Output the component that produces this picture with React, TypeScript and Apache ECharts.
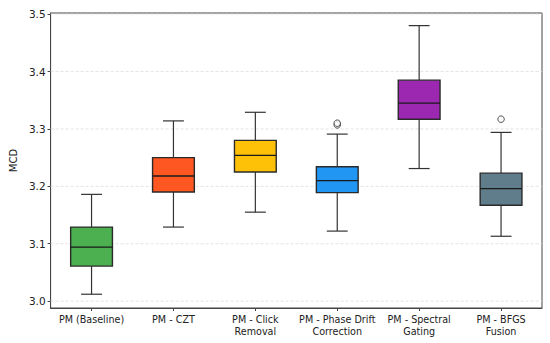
import React, { useEffect, useRef } from "react";
import * as echarts from "echarts";

const categories = [
  "PM (Baseline)",
  "PM - CZT",
  "PM - Click\nRemoval",
  "PM - Phase Drift\nCorrection",
  "PM - Spectral\nGating",
  "PM - BFGS\nFusion",
];
// [whiskerLow, Q1, median, Q3, whiskerHigh]
const boxStats = [
  [3.012, 3.061, 3.094, 3.129, 3.186],
  [3.129, 3.19, 3.218, 3.25, 3.314],
  [3.155, 3.225, 3.254, 3.28, 3.329],
  [3.122, 3.189, 3.21, 3.234, 3.291],
  [3.231, 3.317, 3.345, 3.385, 3.48],
  [3.113, 3.167, 3.196, 3.223, 3.294],
];
const outliers: [number, number][] = [
  [3, 3.307],
  [3, 3.31],
  [5, 3.317],
];
const boxColors = ["#4CAF50", "#FF5722", "#FFC107", "#2196F3", "#9C27B0", "#607D8B"];
const yTicks = [3.0, 3.1, 3.2, 3.3, 3.4, 3.5];

export default function App() {
  const ref = useRef<HTMLDivElement>(null);
  useEffect(() => {
    if (!ref.current) return;
    const chart = echarts.init(ref.current, undefined, { renderer: "svg" });
    const font = "DejaVu Sans";
    chart.setOption({
      animation: false,
      backgroundColor: "#fff",
      grid: {
        left: 43,
        right: 8,
        top: 13,
        bottom: 35,
        show: true,
        borderColor: "#444",
        borderWidth: 1,
        backgroundColor: "transparent",
      },
      xAxis: {
        type: "category",
        data: categories,
        axisLine: { show: true, lineStyle: { color: "#444", width: 1 } },
        axisTick: { show: true, alignWithLabel: true, length: 3, lineStyle: { color: "#444" } },
        axisLabel: { color: "#222", fontFamily: font, fontSize: 9.6, lineHeight: 12, margin: 5, interval: 0 },
        splitLine: { show: false },
      },
      yAxis: {
        type: "value",
        min: 2.988,
        max: 3.502,
        name: "MCD",
        nameLocation: "middle",
        nameGap: 29,
        nameTextStyle: { color: "#222", fontFamily: font, fontSize: 10 },
        axisLine: { show: true, lineStyle: { color: "#444", width: 1 } },
        axisTick: { show: true, length: 3, customValues: yTicks, lineStyle: { color: "#444" } },
        axisLabel: {
          color: "#222",
          fontFamily: font,
          fontSize: 10.5,
          margin: 5,
          customValues: yTicks,
          formatter: (v: number) => v.toFixed(1),
        },
        splitLine: { show: false },
      },
      series: [
        {
          type: "custom",
          data: yTicks.map((v) => [v]),
          renderItem: (params: any, api: any) => {
            const v = api.value(0);
            const cs = params.coordSys;
            const y = api.coord([0, v])[1];
            return {
              type: "line",
              shape: { x1: cs.x, y1: y, x2: cs.x + cs.width, y2: y },
              style: { stroke: "#ddd", lineWidth: 0.8, lineDash: [3, 2] },
              z2: 0,
            };
          },
          z: 1,
        },
        {
          type: "custom",
          data: boxStats.map((s, i) => [i, ...s]),
          renderItem: (params: any, api: any) => {
            const i = api.value(0);
            const lo = api.coord([i, api.value(1)]);
            const q1 = api.coord([i, api.value(2)]);
            const med = api.coord([i, api.value(3)]);
            const q3 = api.coord([i, api.value(4)]);
            const hi = api.coord([i, api.value(5)]);
            const band = api.size([1, 0])[0];
            const bw = band * 0.51;
            const cw = bw / 2;
            const x = lo[0];
            const stroke = "#333";
            return {
              type: "group",
              children: [
                { type: "line", shape: { x1: x, y1: lo[1], x2: x, y2: q1[1] }, style: { stroke, lineWidth: 1.2 } },
                { type: "line", shape: { x1: x, y1: q3[1], x2: x, y2: hi[1] }, style: { stroke, lineWidth: 1.2 } },
                { type: "line", shape: { x1: x - cw / 2, y1: lo[1], x2: x + cw / 2, y2: lo[1] }, style: { stroke, lineWidth: 1.2 } },
                { type: "line", shape: { x1: x - cw / 2, y1: hi[1], x2: x + cw / 2, y2: hi[1] }, style: { stroke, lineWidth: 1.2 } },
                {
                  type: "rect",
                  shape: { x: x - bw / 2, y: q3[1], width: bw, height: q1[1] - q3[1] },
                  style: { fill: boxColors[i], stroke: "#2a2a2a", lineWidth: 1.4 },
                },
                { type: "line", shape: { x1: x - bw / 2, y1: med[1], x2: x + bw / 2, y2: med[1] }, style: { stroke: "#1a1a1a", lineWidth: 1.4 } },
              ],
            };
          },
          z: 2,
        },
        {
          type: "scatter",
          data: outliers,
          symbol: "circle",
          symbolSize: 6.5,
          itemStyle: { color: "#fff", borderColor: "#222", borderWidth: 1 },
          z: 3,
        },
      ],
    });
    return () => chart.dispose();
  }, []);
  return <div ref={ref} style={{ width: 550, height: 343, position: "absolute", left: 0, top: 0 }} />;
}
